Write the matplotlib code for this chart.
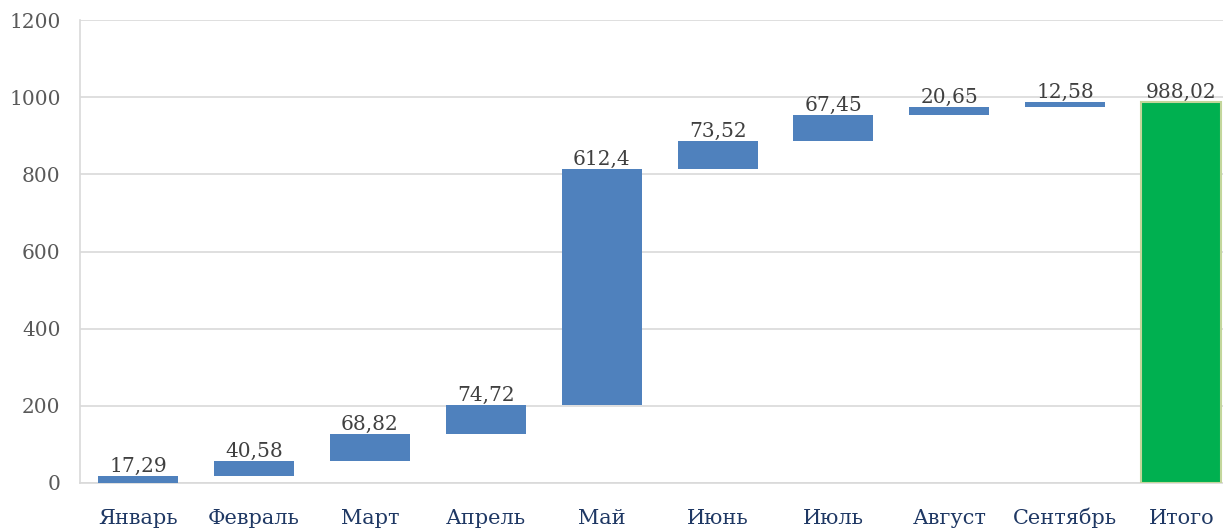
import numpy as np
import matplotlib.pyplot as plt

months = ['Январь', 'Февраль', 'Март', 'Апрель', 'Май', 'Июнь', 'Июль',
          'Август', 'Сентябрь']
increments = [17.29, 40.58, 68.82, 74.72, 612.4, 73.52, 67.45, 20.65, 12.58]
total_label = 'Итого'
total_value = 988.02

labels = months + [total_label]
starts = np.concatenate([[0], np.cumsum(increments)[:-1]])
x = np.arange(len(labels))

plt.rcParams['font.family'] = ['DejaVu Serif']

fig = plt.figure(figsize=(12.23, 5.29), dpi=100)
ax = fig.add_axes([0.0654, 0.087, 1.0 - 0.0654, 0.875])

ax.bar(x[:-1], increments, bottom=starts, width=0.69, color='#4F81BD', zorder=3)
ax.bar(x[-1], total_value, width=0.69, color='#00B050', edgecolor='#C3D69B',
       linewidth=1.5, zorder=3)

# data labels sit just above the top of each bar
tops = list(starts + np.array(increments)) + [total_value]
texts = [f'{v:g}'.replace('.', ',') for v in increments] + \
        [f'{total_value:.2f}'.replace('.', ',')]
for xi, top, t in zip(x, tops, texts):
    ax.annotate(t, (xi, top), xytext=(0, 3), textcoords='offset points',
                ha='center', va='baseline', fontsize=14.5,
                color='#404040', zorder=4)

ax.set_ylim(0, 1200)
ax.set_xlim(-0.5, 9.36)
ax.set_yticks(np.arange(0, 1201, 200))
ax.yaxis.grid(True, color='#D9D9D9', linewidth=1.2, zorder=0)
ax.set_xticks(x)
ax.set_xticklabels(labels)
ax.tick_params(axis='x', length=0, pad=29.5, labelsize=15, labelcolor='#1F3864')
ax.tick_params(axis='y', length=0, pad=14, labelsize=14.5, labelcolor='#595959')
for lbl in ax.get_xticklabels():
    lbl.set_va('baseline')

for side in ['top', 'right']:
    ax.spines[side].set_visible(False)
for side in ['left', 'bottom']:
    ax.spines[side].set_color('#D9D9D9')
    ax.spines[side].set_linewidth(1.2)

fig.savefig('out.png', dpi=100)
